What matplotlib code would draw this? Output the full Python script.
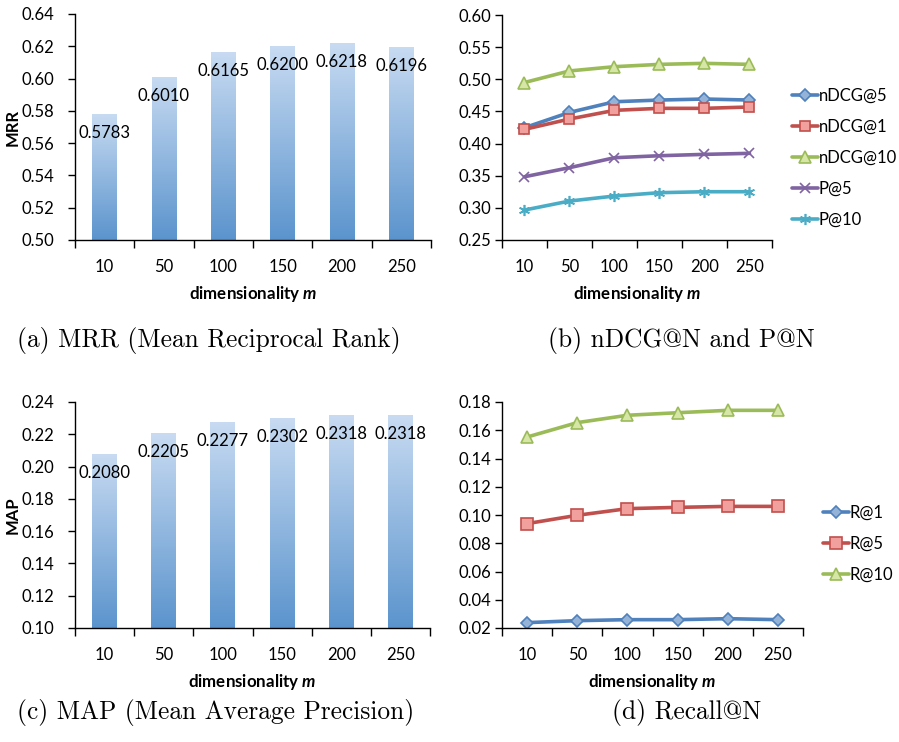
import matplotlib
matplotlib.use('Agg')
import matplotlib.pyplot as plt
import numpy as np
from matplotlib.colors import LinearSegmentedColormap

plt.rcParams['font.family'] = ['Lato', 'DejaVu Sans']
plt.rcParams['mathtext.fontset'] = 'custom'
plt.rcParams['mathtext.bf'] = 'Lato:bold'
plt.rcParams['mathtext.bfit'] = 'Lato:bold:italic'

# data
dims = ['10', '50', '100', '150', '200', '250']
mrr = [0.5783, 0.6010, 0.6165, 0.6200, 0.6218, 0.6196]
map_vals = [0.2080, 0.2205, 0.2277, 0.2302, 0.2318, 0.2318]

ndcg5 = [0.4247, 0.4485, 0.4651, 0.4677, 0.4693, 0.4677]
ndcg1 = [0.4221, 0.4382, 0.4517, 0.4548, 0.4548, 0.4569]
ndcg10 = [0.4950, 0.5130, 0.5196, 0.5232, 0.5248, 0.5232]
p5 = [0.3484, 0.3625, 0.3780, 0.3811, 0.3832, 0.3848]
p10 = [0.2966, 0.3106, 0.3184, 0.3236, 0.3251, 0.3251]

r1 = [0.0238, 0.0252, 0.0259, 0.0259, 0.0266, 0.0259]
r5 = [0.0939, 0.0998, 0.1045, 0.1054, 0.1061, 0.1061]
r10 = [0.1552, 0.1654, 0.1706, 0.1724, 0.1741, 0.1741]

blue_cmap = LinearSegmentedColormap.from_list('bar', ['#5b94cd', '#c8dbf2'])
xlab = r'dimensionality $\mathbfit{m}$'
cap_font = ['cmr10', 'DejaVu Serif']
tick_fs = 12

fig = plt.figure(figsize=(8.99, 7.42), dpi=100)


def style_axes(ax, ylim, yticks, ypad):
    x = np.arange(len(dims))
    ax.set_xlim(-0.5, len(dims) - 0.5)
    ax.set_ylim(*ylim)
    ax.set_yticks(yticks)
    ax.set_yticklabels(['%.2f' % t for t in yticks])
    ax.set_xticks(x)
    ax.set_xticklabels(dims)
    ax.set_xticks(np.arange(len(dims) + 1) - 0.5, minor=True)
    ax.tick_params(axis='x', which='major', length=0, pad=14, labelsize=tick_fs)
    ax.tick_params(axis='x', which='minor', length=6, direction='out', width=1)
    ax.tick_params(axis='y', length=5, width=1, pad=ypad, labelsize=tick_fs)
    for s in ['top', 'right']:
        ax.spines[s].set_visible(False)
    for s in ['left', 'bottom']:
        ax.spines[s].set_linewidth(1)
        ax.spines[s].set_color('black')
    ax.set_xlabel(xlab, fontweight='bold', fontsize=12.2, labelpad=6)


def bar_panel(ax, vals, ylim, yticks, ylabel):
    x = np.arange(len(dims))
    bars = ax.bar(x, vals, width=0.42, color='none', edgecolor='none')
    grad = np.linspace(1, 0, 256).reshape(-1, 1)
    for b in bars:
        x0 = b.get_x()
        im = ax.imshow(grad, cmap=blue_cmap, aspect='auto', origin='upper',
                       extent=[x0, x0 + b.get_width(), ylim[0], b.get_height()])
        im.set_clip_path(b)
    for xi, v in zip(x, vals):
        ax.annotate('%.4f' % v, (xi, v), xytext=(0, -19), textcoords='offset pixels',
                    ha='center', va='center', fontsize=tick_fs)
    style_axes(ax, ylim, yticks, 10)
    ax.set_ylabel(ylabel, fontweight='bold', fontsize=12)
    ax.yaxis.set_label_coords(-0.152, 0.5)


def line_panel(ax, series, ylim, yticks, legend_x, legend_y):
    x = np.arange(len(dims))
    for vals, lab, col, fc, mk, ms in series:
        ax.plot(x, vals, color=col, lw=2.6, marker=mk, ms=ms, mfc=fc, mec=col,
                mew=1.2, label=lab, solid_capstyle='round')
    style_axes(ax, ylim, yticks, 3)
    ax.legend(loc='center left', bbox_to_anchor=(legend_x, legend_y), frameon=False,
              fontsize=tick_fs, handlelength=1.6, handletextpad=0.0, labelspacing=0.9,
              borderaxespad=0.3)


ax_a = fig.add_axes([75 / 899, 502 / 742, 356 / 899, 226 / 742])
bar_panel(ax_a, mrr, (0.50, 0.64), np.arange(0.50, 0.641, 0.02), 'MRR')

ax_c = fig.add_axes([75 / 899, 114 / 742, 355 / 899, 226 / 742])
bar_panel(ax_c, map_vals, (0.10, 0.24), np.arange(0.10, 0.241, 0.02), 'MAP')

ax_b = fig.add_axes([502 / 899, 502 / 742, 270 / 899, 225 / 742])
line_panel(ax_b, [
    (ndcg5, 'nDCG@5', '#4f81bd', '#95b3d7', 'D', 6.5),
    (ndcg1, 'nDCG@1', '#c0504d', '#f2a09e', 's', 6.5),
    (ndcg10, 'nDCG@10', '#9bbb59', '#d6e6a6', '^', 8),
    (p5, 'P@5', '#8064a2', '#b3a2c7', 'x', 7.5),
    (p10, 'P@10', '#4bacc6', '#93cddd', (6, 2, 0), 8),
], (0.25, 0.60), np.arange(0.25, 0.601, 0.05), 1.03, 0.364)

ax_d = fig.add_axes([502 / 899, 114 / 742, 301 / 899, 226 / 742])
line_panel(ax_d, [
    (r1, 'R@1', '#4f81bd', '#95b3d7', 'D', 6.5),
    (r5, 'R@5', '#c0504d', '#f2a09e', 's', 8),
    (r10, 'R@10', '#9bbb59', '#d6e6a6', '^', 8),
], (0.02, 0.18), np.arange(0.02, 0.181, 0.02), 1.027, 0.372)

fig.text(17 / 899, 1 - 340 / 742, '(a) MRR (Mean Reciprocal Rank)', family=cap_font,
         fontsize=18.3, va='center', ha='left')
fig.text(548 / 899, 1 - 340 / 742, '(b) nDCG@N and P@N', family=cap_font,
         fontsize=18.3, va='center', ha='left')
fig.text(17 / 899, 1 - 713 / 742, '(c) MAP (Mean Average Precision)', family=cap_font,
         fontsize=18.3, va='center', ha='left')
fig.text(612 / 899, 1 - 713 / 742, '(d) Recall@N', family=cap_font,
         fontsize=18.3, va='center', ha='left')

plt.savefig('out.png', dpi=100)
